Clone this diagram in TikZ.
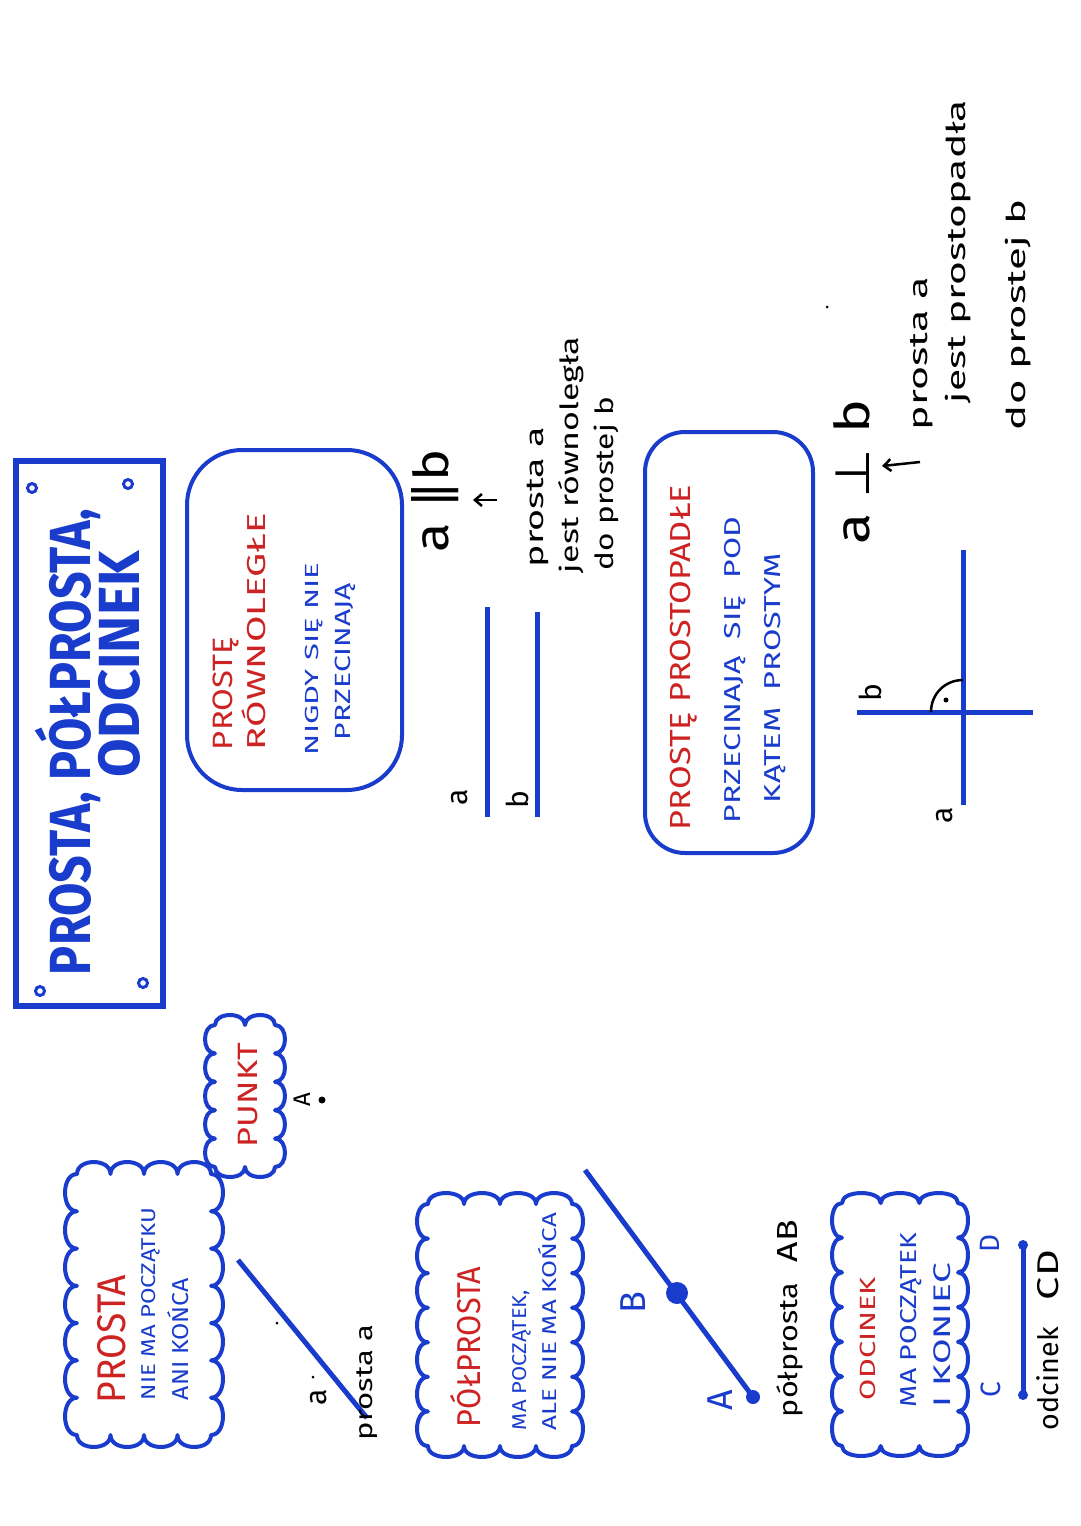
\documentclass[tikz,border=0pt]{standalone}
\usepackage{fontspec}
\usepackage{graphicx}
\setmainfont{Fira Sans}
\newfontfamily\dv{DejaVu Sans}
\usetikzlibrary{arrows.meta}
\definecolor{hblue}{RGB}{25,60,205}
\definecolor{hred}{RGB}{205,35,35}
\newcommand\hwt[3]{{\fontsize{#1pt}{#1pt}\selectfont\resizebox{#2pt}{\height}{#3}}}
% puffy cloud around rectangle: x1 y1 x2 y2 nx ny h
\newcommand\puffcloud[7]{%
  \draw[puffline] (#1,#2)
   foreach \i in {1,...,#5} { .. controls ({#1+(\i-1)*(#3-#1)/#5},{#2-1.33*#7}) and ({#1+\i*(#3-#1)/#5},{#2-1.33*#7}) .. ({#1+\i*(#3-#1)/#5},#2) }
   foreach \i in {1,...,#6} { .. controls ({#3+1.33*#7},{#2+(\i-1)*(#4-#2)/#6}) and ({#3+1.33*#7},{#2+\i*(#4-#2)/#6}) .. (#3,{#2+\i*(#4-#2)/#6}) }
   foreach \i in {1,...,#5} { .. controls ({#3-(\i-1)*(#3-#1)/#5},{#4+1.33*#7}) and ({#3-\i*(#3-#1)/#5},{#4+1.33*#7}) .. ({#3-\i*(#3-#1)/#5},#4) }
   foreach \i in {1,...,#6} { .. controls ({#1-1.33*#7},{#4-(\i-1)*(#4-#2)/#6}) and ({#1-1.33*#7},{#4-\i*(#4-#2)/#6}) .. (#1,{#4-\i*(#4-#2)/#6}) }
   -- cycle;}
\begin{document}
\begin{tikzpicture}[x=1pt,y=-1pt,
  txt/.style={rotate=90, inner sep=0pt, outer sep=0pt, anchor=base west},
  lbl/.style={rotate=90, inner sep=0pt, anchor=center},
  cloudbox/.style={rectangle, inner sep=0pt},
  puffline/.style={draw=hblue, line width=4pt, line join=round},
  boxst/.style={draw=hblue, line width=4pt},
  seg/.style={draw=hblue, line width=5pt, line cap=butt},
  pin/.style={circle, fill=hblue, inner sep=0pt},
  hole/.style={circle, draw=hblue, line width=3pt, inner sep=0pt, minimum size=9pt},
  speck/.style={circle, fill=black, inner sep=0pt, minimum size=3pt},
  arr/.style={-{Straight Barb[length=7pt,width=12pt]}, line width=2.5pt, black}
]
\fill[white] (0,0) rectangle (1080,1526);
\useasboundingbox (0,0) rectangle (1080,1526);

% ---------- title box ----------
\node[draw=hblue, line width=6pt, minimum width=147pt, minimum height=545pt, inner sep=0pt] (title) at (89.5,733.5) {};
\node[hole] (h1) at (32,488) {};
\node[hole] (h2) at (128,484) {};
\node[hole] (h3) at (40,991) {};
\node[hole] (h4) at (143,983) {};
\node[txt, text=hblue] (t1) at (90,975) {\bfseries\hwt{58}{466}{PROSTA, PÓŁPROSTA,}};
\node[txt, text=hblue] (t2) at (139,777) {\bfseries\hwt{58}{226}{ODCINEK}};

% ---------- prosta ----------
\node[cloudbox, minimum width=134pt, minimum height=261pt] (c1) at (144,1304.5) {};
\puffcloud{77}{1174}{211}{1435}{4}{7}{12}
\node[txt, text=hred] (c1a) at (125,1403) {\hwt{40}{128}{PROSTA}};
\node[txt, text=hblue] (c1b) at (155,1400) {\hwt{20}{192}{NIE MA POCZĄTKU}};
\node[txt, text=hblue] (c1c) at (188,1400) {\hwt{23}{122}{ANI KOŃCA}};
\coordinate (la1) at (238,1260);
\coordinate (la2) at (367,1418);
\draw[seg] (la1) -- (la2);
\node[lbl] (lal) at (319,1397) {\fontsize{30pt}{30pt}\selectfont a};
\node[speck] (sp1) at (313,1377) {};
\node[speck] (sp2) at (277,1323) {};
\node[txt] (lat) at (372,1440) {\hwt{24}{115}{prosta a}};

% ---------- punkt ----------
\node[cloudbox, minimum width=60pt, minimum height=142pt] (c2) at (245,1096) {};
\puffcloud{215}{1025}{275}{1167}{2}{5}{10}
\node[txt, text=hred] (c2a) at (257,1147) {\hwt{28}{104}{PUNKT}};
\node[lbl] (pAl) at (302,1100) {\fontsize{24pt}{24pt}\selectfont A};
\node[circle, fill=black, inner sep=0pt, minimum size=7pt] (pAd) at (322,1100) {};

% ---------- polprosta ----------
\node[cloudbox, minimum width=144pt, minimum height=242pt] (c3) at (500,1325) {};
\puffcloud{428}{1204}{572}{1446}{4}{7}{11}
\node[txt, text=hred] (c3a) at (480,1427) {\hwt{33}{160}{PÓŁPROSTA}};
\node[txt, text=hblue] (c3b) at (526,1430) {\hwt{20}{140}{MA POCZĄTEK,}};
\node[txt, text=hblue] (c3c) at (556,1430) {\hwt{20}{217}{ALE NIE MA KOŃCA}};
\coordinate (rE) at (585,1170);
\coordinate (rA) at (753,1397);
\draw[seg] (rA) -- (rE);
\node[pin, minimum size=14pt] (pA) at (rA) {};
\node[pin, minimum size=22pt] (pB) at (677,1293) {};
\node[lbl, text=hblue] (lB) at (633,1303) {\fontsize{36pt}{36pt}\selectfont B};
\node[lbl, text=hblue] (lA) at (720,1400) {\fontsize{36pt}{36pt}\selectfont A};
\node[txt] (pt1) at (797,1417) {\hwt{26}{134}{półprosta}};
\node[txt] (pt2) at (797,1262) {\hwt{29}{42}{AB}};

% ---------- odcinek ----------
\node[cloudbox, minimum width=116pt, minimum height=243pt] (c4) at (900,1324.5) {};
\puffcloud{842}{1203}{958}{1446}{3}{7}{10}
\node[txt, text=hred] (c4a) at (875,1400) {\hwt{22}{123}{ODCINEK}};
\node[txt, text=hblue] (c4b) at (916,1407) {\hwt{23}{174}{MA POCZĄTEK}};
\node[txt, text=hblue] (c4c) at (950,1407) {\hwt{24}{144}{I KONIEC}};
\node[pin, minimum size=10pt] (pC) at (1023,1395) {};
\node[pin, minimum size=10pt] (pD) at (1023,1245) {};
\draw[seg] (pC.center) -- (pD.center);
\node[lbl, text=hblue] (lC) at (991,1390) {\fontsize{28pt}{28pt}\selectfont C};
\node[lbl, text=hblue] (lD) at (990,1243) {\fontsize{28pt}{28pt}\selectfont D};
\node[txt] (od1) at (1058,1430) {\hwt{28}{103}{odcinek}};
\node[txt] (od2) at (1058,1300) {\hwt{30}{50}{CD}};

% ---------- rownolegle ----------
\node[boxst, rounded corners=55pt, minimum width=215pt, minimum height=340pt] (r1) at (294.5,620) {};
\node[txt, text=hred] (r1a) at (232,750) {\hwt{28}{113}{PROSTĘ}};
\node[txt, text=hred] (r1b) at (265,750) {\hwt{26}{237}{RÓWNOLEGŁE}};
\node[txt, text=hblue] (r1c) at (318,755) {\hwt{19}{192}{NIGDY SIĘ NIE}};
\node[txt, text=hblue] (r1d) at (350,740) {\hwt{22}{157}{PRZECINAJĄ}};
\coordinate (pa1) at (487,607);
\coordinate (pa2) at (487,817);
\coordinate (pb1) at (537,612);
\coordinate (pb2) at (537,817);
\draw[seg] (pa1) -- (pa2);
\draw[seg] (pb1) -- (pb2);
\node[lbl] (pal) at (460,797) {\fontsize{30pt}{30pt}\selectfont a};
\node[lbl] (pbl) at (517,800) {\fontsize{30pt}{30pt}\selectfont b};
\node[lbl] (par) at (435,501) {\fontsize{48pt}{48pt}\selectfont\resizebox{103pt}{\height}{a {\dv∥}b}};
\coordinate (ar1s) at (497,500);
\coordinate (ar1e) at (473,500);
\draw[arr] (ar1s) -- (ar1e);
\node[txt] (pd1) at (543,567) {\hwt{25}{140}{prosta a}};
\node[txt] (pd2) at (578,573) {\hwt{25}{236}{jest równoległa}};
\node[txt] (pd3) at (613,570) {\hwt{25}{173}{do prostej b}};

% ---------- prostopadle ----------
\node[boxst, rounded corners=40pt, minimum width=168pt, minimum height=421pt] (r2) at (729,642.5) {};
\node[txt, text=hred] (r2a) at (690,830) {\hwt{29}{345}{PROSTĘ PROSTOPADŁE}};
\node[txt, text=hblue] (r2b) at (740,823) {\hwt{23}{306}{PRZECINAJĄ\ \ SIĘ\ \ POD}};
\node[txt, text=hblue] (r2c) at (780,803) {\hwt{23}{250}{KĄTEM\ \ PROSTYM}};
\coordinate (v1) at (963,550);
\coordinate (v2) at (963,805);
\coordinate (w1) at (857,712);
\coordinate (w2) at (1033,712);
\draw[seg] (v1) -- (v2);
\draw[seg] (w1) -- (w2);
\coordinate (ra1) at (931,712);
\coordinate (ra2) at (963,680);
\draw[black, line width=2.5pt] (ra1) .. controls (931,694) and (945,680) .. (ra2);
\node[circle, fill=black, inner sep=0pt, minimum size=5pt] (rad) at (946,700) {};
\node[lbl] (qbl) at (870,693) {\fontsize{30pt}{30pt}\selectfont b};
\node[lbl] (qal) at (945,815) {\fontsize{30pt}{30pt}\selectfont a};
\node[lbl] (perp) at (852,472) {\fontsize{48pt}{48pt}\selectfont\resizebox{145pt}{\height}{a {\dv⊥} b}};
\coordinate (ar2s) at (920,462);
\coordinate (ar2e) at (882,466);
\draw[arr] (ar2s) -- (ar2e);
\node[txt] (qd1) at (927,430) {\hwt{26}{153}{prosta a}};
\node[txt] (qd2) at (965,403) {\hwt{26}{303}{jest prostopadła}};
\node[txt] (qd3) at (1025,430) {\hwt{26}{230}{do prostej b}};
\node[speck] (sp3) at (827,307) {};
\end{tikzpicture}
\end{document}
